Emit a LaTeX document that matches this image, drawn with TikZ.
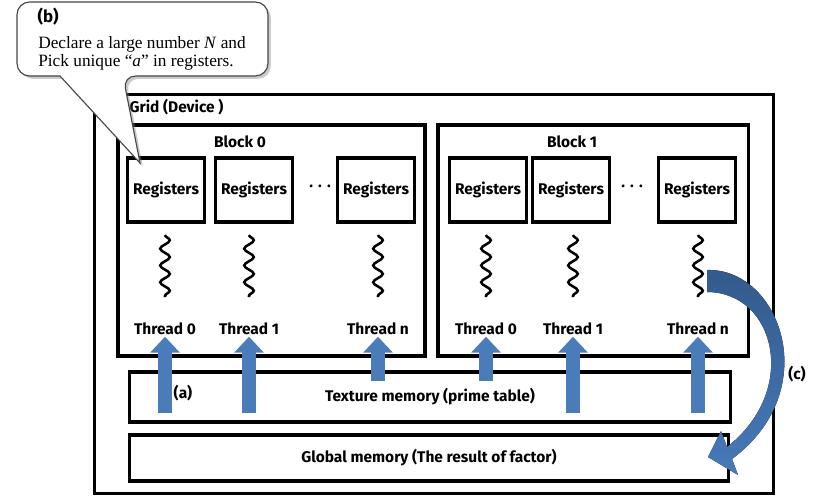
\documentclass[tikz,border=0pt]{standalone}
\usepackage{fontspec}
\setmainfont{Liberation Serif}
\setsansfont{Fira Sans}
\usepackage{tikz}
\usetikzlibrary{arrows.meta, positioning, calc, shadows, decorations.pathmorphing}
\definecolor{clrArrow}{RGB}{74,124,186}
\definecolor{clrCurveTop}{RGB}{50,90,140}
\definecolor{clrCurveBot}{RGB}{72,122,185}
\definecolor{clrBalloon}{RGB}{70,70,70}

\begin{document}
\begin{tikzpicture}[
  x=0.025cm, y=-0.025cm,
  frame/.style={rectangle, draw=black, line width=2.2pt, inner sep=0pt},
  lbl/.style={font=\sffamily\bfseries\fontsize{11}{13}\selectfont, inner sep=1pt},
  regbox/.style={frame, lbl, line width=2.6pt,
    minimum width=1.92cm, minimum height=1.6cm},
  membox/.style={frame, lbl},
  wiggle/.style={line width=1.8pt, decorate,
    decoration={snake, segment length=0.42cm, amplitude=0.12cm}},
  uparrow/.style={line width=0.33cm, color=clrArrow,
    -{Triangle[length=0.4cm, width=0.72cm]}},
  curvearrow/.style={top color=clrCurveTop, bottom color=clrCurveBot},
  balloon/.style={draw=clrBalloon, fill=white, line width=0.8pt,
    drop shadow={shadow xshift=2pt, shadow yshift=-2pt, opacity=0.4}}
]
\useasboundingbox (0,0) rectangle (816,499);

% Grid and blocks
\node[frame, minimum width=16.95cm, minimum height=9.95cm] (grid) at (434,294) {};
\node[lbl, anchor=west] (gridlbl) at (128,107) {Grid (Device )};

\node[frame, minimum width=7.675cm, minimum height=5.775cm] (block0) at (271.5,240.5) {};
\node[frame, minimum width=7.75cm, minimum height=5.775cm]  (block1) at (593,240.5) {};
\node[lbl] (b0lbl) at (240,142) {Block 0};
\node[lbl] (b1lbl) at (572,142) {Block 1};

% Registers
\node[regbox] (r00) at (166,190) {Registers};
\node[regbox] (r01) at (254,190) {Registers};
\node[regbox] (r0n) at (376,190) {Registers};
\node[regbox] (r10) at (488,190) {Registers};
\node[regbox] (r11) at (571,190) {Registers};
\node[regbox] (r1n) at (697,190) {Registers};
\node[lbl] (dots0) at (320,186) {.\,\,.\,\,.};
\node[lbl] (dots1) at (632,186) {.\,\,.\,\,.};

% Threads
\node[lbl] (th00) at (165,329) {Thread 0};
\node[lbl] (th01) at (249,329) {Thread 1};
\node[lbl] (th0n) at (378,329) {Thread n};
\node[lbl] (th10) at (486,329) {Thread 0};
\node[lbl] (th11) at (573,329) {Thread 1};
\node[lbl] (th1n) at (698,329) {Thread n};

\draw[wiggle] ($(th00)+(0,-94)$) -- ($(th00)+(0,-32)$);
\draw[wiggle] ($(th01)+(0,-94)$) -- ($(th01)+(0,-32)$);
\draw[wiggle] ($(th0n)+(0,-94)$) -- ($(th0n)+(0,-32)$);
\draw[wiggle] ($(th10)+(0,-94)$) -- ($(th10)+(0,-32)$);
\draw[wiggle] ($(th11)+(0,-94)$) -- ($(th11)+(0,-32)$);
\draw[wiggle] ($(th1n)+(0,-94)$) -- ($(th1n)+(0,-32)$);

% Memories
\node[membox, minimum width=15cm, minimum height=1.25cm] (texture) at (430,397)
  {Texture memory (prime table)};
\node[membox, minimum width=14.95cm, minimum height=1.15cm] (global) at (429,458)
  {Global memory (The result of factor)};

% Loads from texture memory
\coordinate (s00) at (165,413);
\coordinate (s01) at (249,413);
\coordinate (s0n) at (378,381);
\coordinate (s10) at (486,381);
\coordinate (s11) at (573,413);
\coordinate (s1n) at (698,413);
\draw[uparrow] (s00) -- (th00.south);
\draw[uparrow] (s01) -- (th01.south);
\draw[uparrow] (s0n) -- (th0n.south);
\draw[uparrow] (s10) -- (th10.south);
\draw[uparrow] (s11) -- (th11.south);
\draw[uparrow] (s1n) -- (th1n.south);
\node[lbl] (alabel) at (183,393) {(a)};

% Result write-back
\coordinate (cstart) at (707,281);
\coordinate (cend) at (708,457);
\fill[curvearrow] ($(cstart)+(0,-11)$) .. controls (780,268) and (825,390) .. (732,459)
  -- (738,475) -- (cend) -- (721,431) -- (727,447)
  .. controls (800,390) and (775,292) .. ($(cstart)+(0,11)$) -- cycle;
\node[lbl] (clabel) at (797,374) {(c)};

% Callout
\coordinate (tip) at (140,163);
\draw[balloon, rounded corners=9pt] (17,2) -- (268,2) -- (268,76) -- (123,76)
  [sharp corners] -- (tip) -- (60,76) [rounded corners=9pt] -- (17,76) -- cycle;
\node[lbl, anchor=west, font=\sffamily\bfseries\fontsize{12}{14}\selectfont]
  (blabel) at (36,17) {(b)};
\node[anchor=north west, align=left, inner sep=0pt,
      font=\fontsize{12.3}{13.2}\selectfont] (bnote) at (38,36)
  {Declare a large number \textit{N} and\\Pick unique “\textit{a}” in registers.};

\end{tikzpicture}
\end{document}
